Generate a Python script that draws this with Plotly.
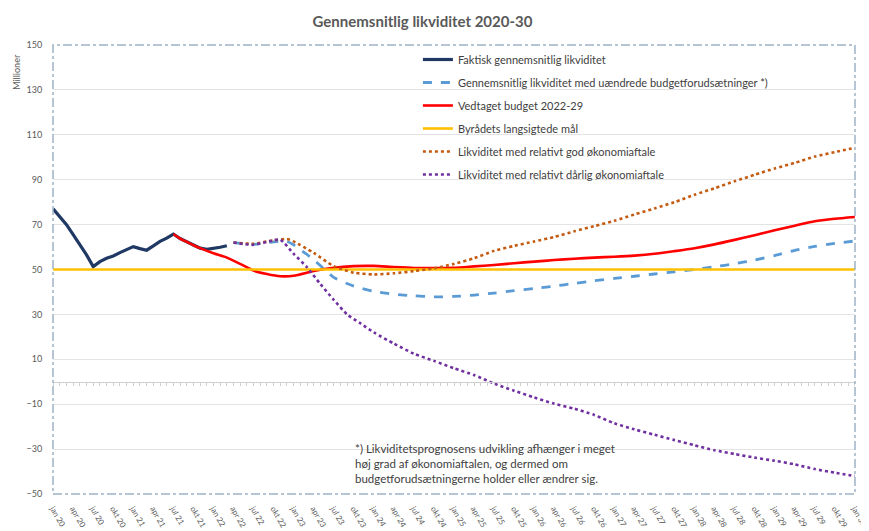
import plotly.graph_objects as go

# ---------------- data ----------------
tick_labels = ["jan 20", "apr 20", "jul 20", "okt 20", "jan 21", "apr 21", "jul 21", "okt 21",
               "jan 22", "apr 22", "jul 22", "okt 22", "jan 23", "apr 23", "jul 23", "okt 23",
               "jan 24", "apr 24", "jul 24", "okt 24", "jan 25", "apr 25", "jul 25", "okt 25",
               "jan 26", "apr 26", "jul 26", "okt 26", "jan 27", "apr 27", "jul 27", "okt 27",
               "jan 28", "apr 28", "jul 28", "okt 28", "jan 29", "apr 29", "jul 29", "okt 29",
               "jan 30"]
tick_months = list(range(0, 121, 3))   # month index since jan 20

actual_m = list(range(0, 27))
actual_v = [77, 73.5, 70, 65.5, 61, 56.5, 51.3, 53.5, 55, 56, 57.5, 59, 60.2, 59.3, 58.6, 60.5,
            62.5, 64, 65.8, 63.8, 62.3, 60.8, 59.5, 59, 59.3, 59.9, 60.6]

unchanged_m = [27, 30, 33, 35, 36, 39, 42, 45, 48, 51, 54, 57, 60, 63, 66, 69, 72, 75, 78, 81, 84,
               87, 90, 93, 96, 99, 102, 105, 108, 111, 114, 117, 120]
unchanged_v = [62, 61.2, 62.3, 62.5, 61, 54.4, 46.5, 42.6, 40.3, 39, 38.3, 37.8, 38, 38.6, 39.5,
               40.6, 41.5, 42.6, 43.8, 45, 46, 47, 48, 49, 50, 51.2, 52.6, 54.2, 56.2, 58.5,
               60.3, 61.6, 62.7]

budget_m = [18, 19, 20, 21, 22, 24, 26, 28, 30, 32, 34, 36, 39, 42, 45, 48, 51, 54, 57, 60, 63,
            66, 69, 72, 75, 78, 81, 84, 87, 90, 93, 96, 99, 102, 105, 108, 111, 114, 117, 120]
budget_v = [65.8, 63.8, 62.3, 60.8, 59.5, 57.2, 55.3, 52.5, 49.5, 48, 47, 47.2, 49.3, 50.8, 51.5,
            51.6, 51.1, 50.7, 50.6, 50.8, 51.4, 52, 52.8, 53.5, 54.2, 54.8, 55.3, 55.7, 56.2, 57,
            58.2, 59.5, 61.2, 63.2, 65.3, 67.5, 69.5, 71.5, 72.6, 73.4]

goal_m = [0, 120]
goal_v = [50, 50]

good_m = [27, 30, 33, 35, 36, 39, 42, 45, 48, 51, 54, 57, 60, 63, 66, 69, 72, 75, 78, 81, 84,
          87, 90, 93, 96, 99, 102, 105, 108, 111, 114, 117, 120]
good_v = [62, 61.5, 63, 63.6, 62.5, 57.4, 51.5, 48.6, 47.8, 48.3, 49.3, 50.5, 52.5, 55, 58.3,
          60.5, 62.5, 64.5, 67, 69.3, 71.7, 74.5, 77.2, 80, 83.3, 86.2, 89.3, 92.2, 95, 97.5,
          100.3, 102.3, 104.2]

bad_m = [27, 30, 33, 34, 36, 38, 40, 42, 44, 46, 48, 51, 54, 57, 60, 63, 66, 69, 72, 75, 78, 81,
         84, 87, 90, 93, 96, 99, 102, 105, 108, 111, 114, 117, 120]
bad_v = [62, 61, 63, 63.3, 57, 51, 43.5, 36.5, 30, 26, 22, 17, 12.5, 9.3, 6, 3, -0.8, -4, -7,
         -9.8, -12, -14.8, -18.5, -21.2, -23.6, -26, -28.3, -30.5, -32.2, -33.8, -35.2, -36.8,
         -38.9, -40.5, -42]

y_ticks = [-50, -30, -10, 10, 30, 50, 70, 90, 110, 130, 150]

title_text = "Gennemsnitlig likviditet 2020-30"
footnote = ("*) Likviditetsprognosens udvikling afhænger i meget<br>"
            "høj grad af økonomiaftalen, og dermed om<br>"
            "budgetforudsætningerne holder eller ændrer sig.")

# ---------------- figure ----------------
FONT = "Lato"
fig = go.Figure()

series = [
    ("Faktisk gennemsnitlig likviditet", actual_m, actual_v, "#1f3864", "solid", 3.2, "linear"),
    ("Gennemsnitlig likviditet med uændrede budgetforudsætninger *)", unchanged_m, unchanged_v,
     "#5b9bd5", "dash", 2.8, "spline"),
    ("Vedtaget budget 2022-29", budget_m, budget_v, "#ff0000", "solid", 2.6, "spline"),
    ("Byrådets langsigtede mål", goal_m, goal_v, "#ffc000", "solid", 2.6, "linear"),
    ("Likviditet med relativt god økonomiaftale", good_m, good_v, "#c55a11", "dot", 2.6, "spline"),
    ("Likviditet med relativt dårlig økonomiaftale", bad_m, bad_v, "#7030a0", "dot", 2.6, "spline"),
]
for i, (name, xm, yv, col, dash, w, shape) in enumerate(series):
    line = dict(color=col, dash=dash, width=w, shape=shape)
    if shape == "spline":
        line["smoothing"] = 0.6
    fig.add_trace(go.Scatter(x=xm, y=yv, mode="lines", name=name, line=line,
                             legendgroup=f"g{i}", cliponaxis=False))

# invisible helper trace for the zero-crossing category axis
fig.add_trace(go.Scatter(x=[None], y=[None], xaxis="x2", yaxis="y", showlegend=False,
                         hoverinfo="skip"))

X_RANGE = [-0.02, 120.02]

# page body has an 8px margin, so offsets are reduced by 8
fig.update_layout(
    width=869, height=523,
    margin=dict(l=45, r=22, t=37, b=37, autoexpand=False),
    paper_bgcolor="white", plot_bgcolor="white",
    font=dict(family=FONT, color="#595959"),
    title=dict(text=f"<b>{title_text}</b>", x=0.477, xanchor="center", y=0.973,
               yanchor="middle", font=dict(family=FONT, size=15, color="#595959")),
    xaxis=dict(range=X_RANGE, tickvals=tick_months, ticktext=tick_labels, tickangle=60,
               tickfont=dict(size=8, color="#595959"), showgrid=False, zeroline=False,
               showline=False, ticks="outside", ticklen=6, tickcolor="rgba(0,0,0,0)",
               automargin=False, ticklabeloverflow="allow"),
    xaxis2=dict(range=X_RANGE, overlaying="x", anchor="free", position=0.25,
                showline=True, linecolor="#d0d0d0", linewidth=1, ticks="outside", ticklen=3,
                tickcolor="#d0d0d0", tick0=0, dtick=1, showticklabels=False, showgrid=False,
                zeroline=False),
    yaxis=dict(range=[-50, 150], tickvals=y_ticks, showgrid=True, gridcolor="#e3e3e3",
               gridwidth=1, zeroline=False, tickfont=dict(size=9, color="#595959"),
               ticks="outside", ticklen=8, tickcolor="rgba(0,0,0,0)", automargin=False),
    legend=dict(x=0.455, y=1.0, xanchor="left", yanchor="top", bgcolor="rgba(0,0,0,0)",
                font=dict(family=FONT, size=11, color="#404040"), traceorder="grouped",
                tracegroupgap=4, itemwidth=30),
    showlegend=True,
)

fig.add_shape(type="rect", xref="paper", yref="paper", x0=0, x1=1, y0=0, y1=1,
              line=dict(color="#9db3c6", width=1.5, dash="dashdot"), layer="above")

fig.add_annotation(text=footnote, xref="paper", yref="paper", x=0.374, y=0.067,
                   xanchor="left", yanchor="middle", align="left", showarrow=False,
                   font=dict(family=FONT, size=11.5, color="#404040"))

fig.add_annotation(text="Millioner", xref="paper", yref="paper", x=-0.045, y=0.94,
                   xanchor="center", yanchor="middle", textangle=-90, showarrow=False,
                   font=dict(family=FONT, size=9, color="#595959"))

fig.write_html("out.html")
